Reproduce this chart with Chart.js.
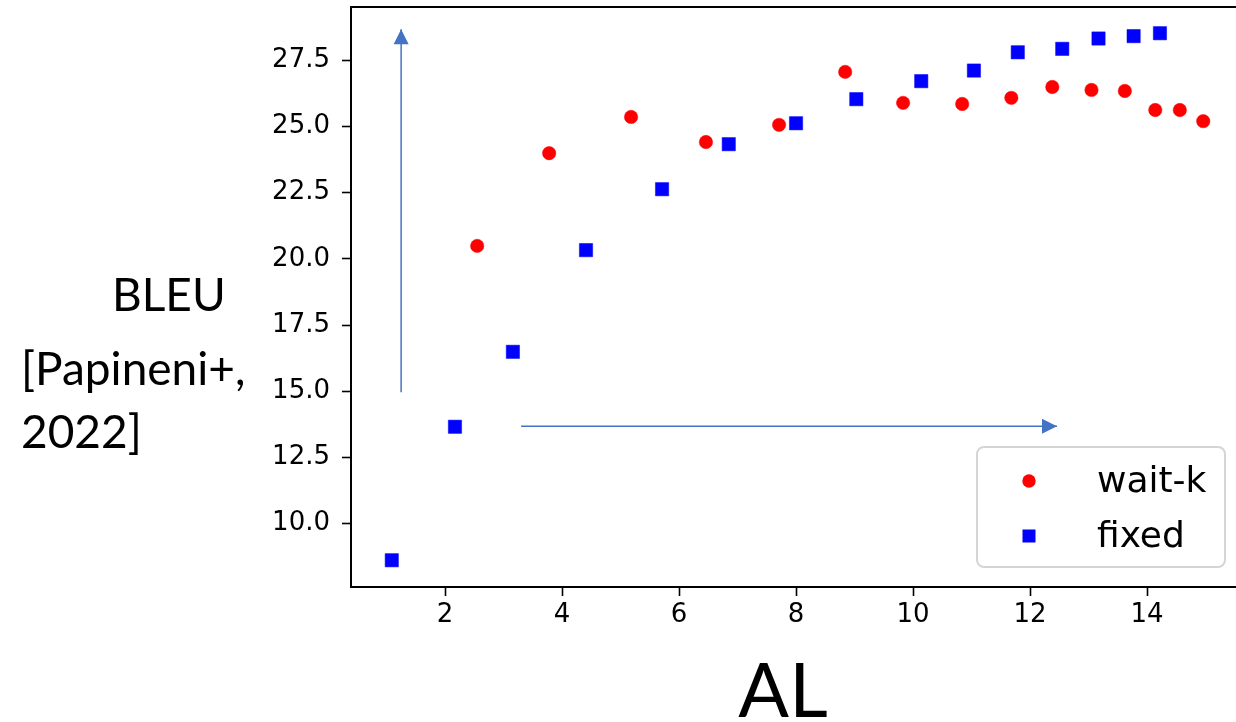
<!DOCTYPE html>
<html><head><meta charset="utf-8">
<script src="https://cdn.jsdelivr.net/npm/chart.js@4/dist/chart.umd.min.js"></script>
<style>html,body{margin:0;padding:0;background:#fff;}#wrap{width:1236px;height:722px;}</style>
</head><body><div id="wrap"><canvas id="c" width="1236" height="722"></canvas></div>
<script>
// ---- data ----
const seriesLabels = ['wait-k', 'fixed'];
const waitkAL   = [2.55, 3.78, 5.18, 6.46, 7.71, 8.84, 9.83, 10.84, 11.68, 12.38, 13.05, 13.62, 14.14, 14.56, 14.96];
const waitkBLEU = [20.49, 23.99, 25.36, 24.41, 25.06, 27.06, 25.89, 25.85, 26.08, 26.49, 26.38, 26.34, 25.62, 25.62, 25.20];
const fixedAL   = [1.09, 2.17, 3.16, 4.41, 5.71, 6.85, 8.00, 9.03, 10.14, 11.04, 11.79, 12.55, 13.17, 13.77, 14.22];
const fixedBLEU = [8.62, 13.66, 16.49, 20.33, 22.63, 24.33, 25.12, 26.03, 26.71, 27.11, 27.80, 27.93, 28.32, 28.41, 28.52];
const xTickValues = [2, 4, 6, 8, 10, 12, 14];
const yTickValues = [10, 12.5, 15, 17.5, 20, 22.5, 25, 27.5];
const arrowUpAL      = [1.25, 1.25];
const arrowUpBLEU    = [14.96, 28.67];
const arrowRightAL   = [3.30, 12.46];
const arrowRightBLEU = [13.68, 13.68];
const xTitle = 'AL';
const yTitleLines = ['BLEU', '[Papineni+,', '2022]'];

const pts = (xs, ys) => xs.map((x, i) => ({x: x, y: ys[i]}));
const ARROW = '#4472C4';
const noPad = s => { s.paddingTop = 0; s.paddingBottom = 0; s.paddingLeft = 0; s.paddingRight = 0; };

const arrowHeads = {
  id: 'arrowHeads',
  afterDatasetsDraw(chart) {
    const ctx = chart.ctx;
    chart.data.datasets.forEach((ds, i) => {
      if (!ds.isArrow) return;
      const pe = chart.getDatasetMeta(i).data;
      const a = pe[pe.length - 2], b = pe[pe.length - 1];
      const ang = Math.atan2(b.y - a.y, b.x - a.x);
      const L = 15, W = 7.5;
      ctx.save();
      ctx.fillStyle = ARROW;
      ctx.beginPath();
      ctx.moveTo(b.x, b.y);
      ctx.lineTo(b.x - L * Math.cos(ang) + W * Math.sin(ang), b.y - L * Math.sin(ang) - W * Math.cos(ang));
      ctx.lineTo(b.x - L * Math.cos(ang) - W * Math.sin(ang), b.y - L * Math.sin(ang) + W * Math.cos(ang));
      ctx.closePath();
      ctx.fill();
      ctx.restore();
    });
  }
};

const extras = {
  id: 'extras',
  afterDraw(chart) {
    const ctx = chart.ctx;
    ctx.save();
    ctx.fillStyle = '#000';
    ctx.textBaseline = 'alphabetic';
    ctx.textAlign = 'center';
    ctx.font = '75px Lato';
    ctx.fillText(xTitle, 783, 717);
    ctx.textAlign = 'left';
    ctx.font = '46px Lato';
    ctx.fillText(yTitleLines[0], 112, 311);
    ctx.fillText(yTitleLines[1], 21, 385);
    ctx.fillText(yTitleLines[2], 21, 448);
    // legend
    const bx = 977, by = 447, bw = 248, bh = 120, r = 7;
    ctx.beginPath();
    ctx.moveTo(bx + r, by);
    ctx.arcTo(bx + bw, by, bx + bw, by + bh, r);
    ctx.arcTo(bx + bw, by + bh, bx, by + bh, r);
    ctx.arcTo(bx, by + bh, bx, by, r);
    ctx.arcTo(bx, by, bx + bw, by, r);
    ctx.closePath();
    ctx.fillStyle = 'rgba(255,255,255,0.85)';
    ctx.fill();
    ctx.lineWidth = 2;
    ctx.strokeStyle = '#d5d5d5';
    ctx.stroke();
    const rows = [481, 536];
    chart.data.datasets.forEach((ds, i) => {
      if (ds.isArrow) return;
      const y = rows[i];
      ctx.fillStyle = ds.backgroundColor;
      if (ds.pointStyle === 'rect') {
        ctx.fillRect(1029 - 6.5, y - 6.5, 13, 13);
      } else {
        ctx.beginPath(); ctx.arc(1029, y, 6.7, 0, Math.PI * 2); ctx.fill();
      }
      ctx.fillStyle = '#000';
      ctx.font = '36px "DejaVu Sans"';
      ctx.textAlign = 'left';
      ctx.textBaseline = 'alphabetic';
      ctx.fillText(ds.label, 1097, y + 11);
    });
    ctx.restore();
  }
};

new Chart(document.getElementById('c'), {
  type: 'scatter',
  data: {
    datasets: [
      {label: seriesLabels[0], data: pts(waitkAL, waitkBLEU), pointStyle: 'circle', pointRadius: 6.7,
       backgroundColor: '#ff0000', borderColor: '#ff0000', borderWidth: 0.5, order: 1},
      {label: seriesLabels[1], data: pts(fixedAL, fixedBLEU), pointStyle: 'rect', pointRadius: 9.4,
       backgroundColor: '#0000ff', borderColor: '#0000ff', borderWidth: 0.5, order: 1},
      {label: 'arrowUp', isArrow: true, data: pts(arrowUpAL, arrowUpBLEU), showLine: true, pointRadius: 0,
       borderColor: ARROW, borderWidth: 1.5, backgroundColor: ARROW, order: 2},
      {label: 'arrowRight', isArrow: true, data: pts(arrowRightAL, arrowRightBLEU), showLine: true, pointRadius: 0,
       borderColor: ARROW, borderWidth: 1.5, backgroundColor: ARROW, order: 2}
    ]
  },
  options: {
    responsive: false,
    animation: false,
    devicePixelRatio: 1,
    layout: {padding: 0, autoPadding: false},
    plugins: {legend: {display: false}, tooltip: {enabled: false}},
    scales: {
      x: {
        type: 'linear', position: 'bottom', min: 0.393, max: 15.52,
        afterBuildTicks: s => { s.ticks = xTickValues.map(v => ({value: v})); },
        afterFit: s => { s.height = 135; noPad(s); },
        grid: {display: true, drawOnChartArea: false, drawTicks: true, tickLength: 9, tickWidth: 1.6, tickColor: '#000'},
        border: {display: true, color: '#000', width: 2},
        ticks: {color: '#000', font: {family: 'DejaVu Sans', size: 26}, padding: 4, autoSkip: false, maxRotation: 0,
                callback: v => String(v)}
      },
      x2: {
        type: 'linear', position: 'top', display: true,
        afterFit: s => { s.height = 7; noPad(s); },
        grid: {display: false, drawTicks: false},
        border: {display: true, color: '#000', width: 2},
        ticks: {display: false}
      },
      y: {
        type: 'linear', position: 'left', min: 7.61, max: 29.51,
        afterBuildTicks: s => { s.ticks = yTickValues.map(v => ({value: v})); },
        afterFit: s => { s.width = 351; noPad(s); },
        grid: {display: true, drawOnChartArea: false, drawTicks: true, tickLength: 9, tickWidth: 1.6, tickColor: '#000'},
        border: {display: true, color: '#000', width: 2},
        ticks: {color: '#000', font: {family: 'DejaVu Sans', size: 26}, padding: 12, autoSkip: false,
                callback: v => Number(v).toFixed(1)}
      }
    }
  },
  plugins: [arrowHeads, extras]
});
</script></body></html>
